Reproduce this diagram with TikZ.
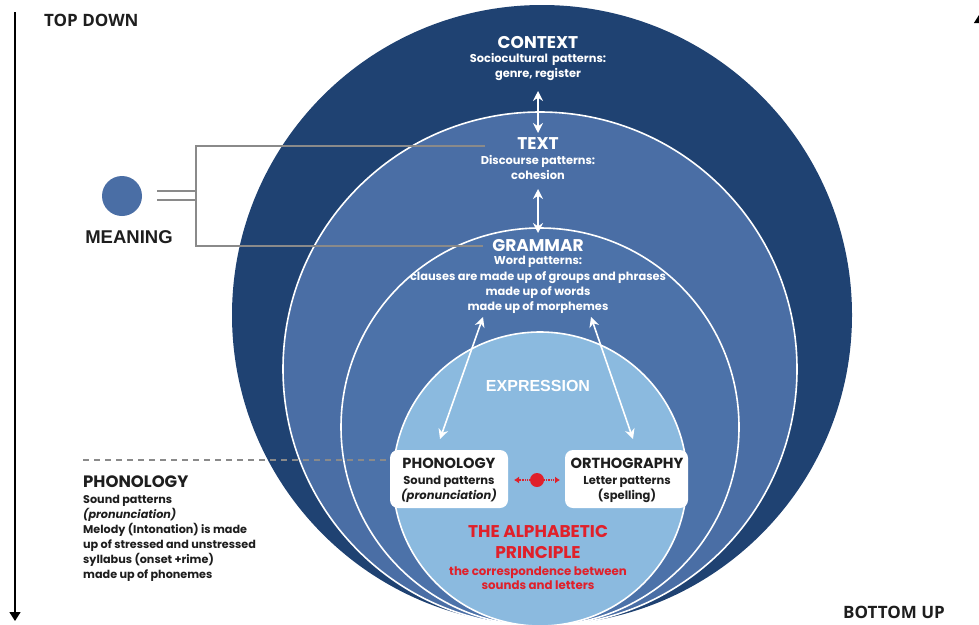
\documentclass[tikz,border=0pt]{standalone}
\usepackage{fontspec}
\setmainfont{Poppins}
\newfontfamily\arialf{Liberation Sans}
\newfontfamily\opensans{Open Sans}
\usetikzlibrary{arrows.meta}
\definecolor{darkB}{HTML}{1F4272}
\definecolor{midB}{HTML}{4A6EA5}
\definecolor{midBb}{HTML}{4C72A9}
\definecolor{lightB}{HTML}{8BBADF}
\definecolor{redT}{HTML}{E0202A}
\definecolor{txtD}{HTML}{1E1E1E}
\definecolor{lineG}{HTML}{8A8A8A}
\begin{document}
\begin{tikzpicture}[x=1pt,y=-1pt,
  ring/.style={draw=white,line width=1.6pt},
  wtitle/.style={text=white,font=\bfseries\fontsize{17}{19}\selectfont,inner sep=0},
  wbody/.style={text=white,font=\bfseries\fontsize{11.4}{14.5}\selectfont,align=center,inner sep=0},
  warrow/.style={draw=white,line width=1.6pt,{Stealth[length=10pt,width=10pt]}-{Stealth[length=10pt,width=10pt]}},
  graylink/.style={draw=lineG,line width=1.3pt},
  wbox/.style={fill=white,rounded corners=8pt,minimum width=#1,minimum height=58pt,inner sep=0},
  boxtitle/.style={text=txtD,font=\bfseries\fontsize{14.6}{17}\selectfont,inner sep=0},
  boxbody/.style={text=txtD,font=\bfseries\fontsize{11.5}{15}\selectfont,align=center,inner sep=0},
  redbig/.style={text=redT,font=\bfseries\fontsize{17}{21}\selectfont,align=center,inner sep=0},
  redsmall/.style={text=redT,font=\bfseries\fontsize{11.8}{14}\selectfont,align=center,inner sep=0},
  axisarrow/.style={draw=black,line width=1.5pt,-{Triangle[length=9pt,width=11pt]}},
  axislabel/.style={text=txtD,font=\opensans\bfseries\fontsize{17}{19}\selectfont,inner sep=0,anchor=west}
]
\useasboundingbox (0,0) rectangle (979,624);
\fill[white] (0,0) rectangle (979,624);

% concentric circles
\fill[darkB] (542,315) circle [radius=310pt];
\filldraw[fill=midB,ring] (540,369) circle [radius=257pt];
\filldraw[fill=midBb,ring] (540,427) circle [radius=199pt];
\filldraw[fill=lightB,ring] (540,479) circle [radius=147pt];

% context
\node[wtitle] (ctx) at (538,43) {CONTEXT};
\node[wbody] (ctxb) at (538,67) {Sociocultural\, patterns:\\genre, register};
% text
\node[wtitle] (txt) at (538,144) {TEXT};
\node[wbody] (txtb) at (538,167.5) {Discourse patterns:\\cohesion};
% grammar
\node[wtitle] (gram) at (538,246) {GRAMMAR};
\node[wbody,font=\bfseries\fontsize{11.4}{15.3}\selectfont] (gramb) at (538,285) {Word patterns:\\clauses are made up of groups and phrases\\made up of words\\made up of morphemes};
% expression
\node[text=white,font=\arialf\bfseries\fontsize{16}{18}\selectfont,inner sep=0] (expr) at (538,386) {EXPRESSION};

% arrows
\coordinate (a1) at (538,91);
\coordinate (a2) at (538,133);
\coordinate (a3) at (538,189);
\coordinate (a4) at (538,233);
\coordinate (dl1) at (483,317);
\coordinate (dl2) at (440,439);
\coordinate (dr1) at (591,317);
\coordinate (dr2) at (633,439);
\draw[warrow] (a1) -- (a2);
\draw[warrow] (a3) -- (a4);
\draw[warrow] (dl1) -- (dl2);
\draw[warrow] (dr1) -- (dr2);

% boxes
\node[wbox=118pt] (phonbox) at (449,479) {};
\node[boxtitle] (phont) at (449,463.5) {PHONOLOGY};
\node[boxbody] (phonb) at (449,489.5) {Sound patterns\\\textit{(pronunciation)}};
\node[wbox=123pt] (orthbox) at (626.5,479) {};
\node[boxtitle] (ortht) at (627,463.5) {ORTHOGRAPHY};
\node[boxbody] (orthb) at (627,489.5) {Letter patterns\\(spelling)};

% red dot
\node[circle,fill=redT,minimum size=14pt,inner sep=0] (rdot) at (537,480) {};
\coordinate (rl) at (514,480);
\coordinate (rr) at (560,480);
\draw[redT,densely dotted,line width=1.1pt,-{Latex[length=5pt,width=7pt]}] (rdot.west) -- (rl);
\draw[redT,densely dotted,line width=1.1pt,-{Latex[length=5pt,width=7pt]}] (rdot.east) -- (rr);

% alphabetic principle
\node[redbig] (alpha) at (538,541.5) {THE ALPHABETIC\\PRINCIPLE};
\node[redsmall] (alphab) at (538,578) {the correspondence between\\sounds and letters};

% meaning
\node[circle,fill=midB,minimum size=40pt,inner sep=0] (mdot) at (122,196) {};
\node[text=txtD,font=\arialf\bfseries\fontsize{18.5}{20}\selectfont,inner sep=0] (mean) at (129,237) {MEANING};
\coordinate (m1) at (157,191);
\coordinate (m2) at (196,191);
\coordinate (m3) at (157,200);
\coordinate (m4) at (196,200);
\coordinate (bt) at (196,146);
\coordinate (bb) at (196,246);
\coordinate (btE) at (485,146);
\coordinate (bbE) at (483,246);
\draw[graylink] (m1) -- (m2);
\draw[graylink] (m3) -- (m4);
\draw[graylink] (btE) -- (bt) -- (bb) -- (bbE);

% left phonology
\coordinate (dashS) at (83,460);
\draw[draw=lineG,line width=1.2pt,dash pattern=on 6pt off 5pt] (dashS) -- (dashS -| phonbox.west);
\node[text=txtD,font=\bfseries\fontsize{16.5}{18}\selectfont,inner sep=0,anchor=west] (lphon) at (83,482) {PHONOLOGY};
\node[text=txtD,font=\bfseries\fontsize{11.2}{15}\selectfont,align=left,inner sep=0,anchor=west] (lphonb) at (83,538.5) {Sound patterns\\\textit{(pronunciation)}\\Melody (Intonation) is made\\up of stressed and unstressed\\syllabus (onset +rime)\\made up of phonemes};

% axes
\coordinate (tdS) at (15,12);
\coordinate (tdE) at (15,621);
\draw[axisarrow] (tdS) -- (tdE);
\node[axislabel] (td) at (44,20) {TOP DOWN};
\node[axislabel] (bu) at (843,612) {BOTTOM UP};
\coordinate (buS) at (979.6,620);
\coordinate (buE) at (979.6,14);
\draw[axisarrow] (buS) -- (buE);
\end{tikzpicture}
\end{document}
